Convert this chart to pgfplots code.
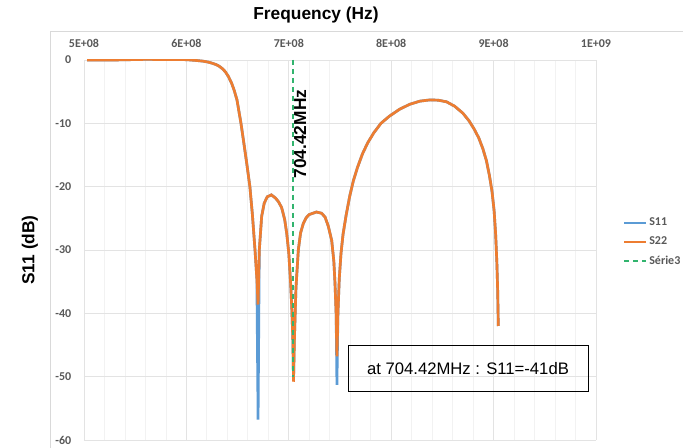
\documentclass[border=0pt]{standalone}
\usepackage{fontspec}
\setmainfont{Liberation Sans}
\newfontfamily\carlito{Carlito}
\usepackage{pgfplots}
\pgfplotsset{compat=1.18}

\definecolor{sblue}{HTML}{5B9BD5}
\definecolor{sorange}{HTML}{ED7D31}
\definecolor{sgreen}{RGB}{50,180,110}
\definecolor{labelgray}{HTML}{595959}
\definecolor{gridmajor}{HTML}{E3E3E3}
\definecolor{gridminor}{HTML}{F2F2F2}
\definecolor{bordergray}{HTML}{D9D9D9}

% frequency in MHz, level in dB
\pgfplotstableread{
f      s
503    0
530    0
560    0.1
600    0.05
610   -0.08
616   -0.18
621   -0.32
625   -0.5
629   -0.72
632   -0.98
635   -1.35
638   -1.85
641   -2.6
644   -3.6
646.5 -4.7
649.4 -6.3
653.3 -10.0
656   -13.0
659   -16.4
662   -20.0
664.5 -24.5
667   -30.0
668.8 -34.5
670   -38.6
671.2 -30.0
673.5 -24.7
676   -22.6
679   -21.6
683   -21.3
687   -21.8
690   -22.4
693   -23.3
696   -25.2
698   -27.4
700   -30.5
701.8 -35.3
703   -39.5
704   -44.5
704.6 -50.8
705.5 -44.0
707   -36.0
709.3 -30.0
711.5 -27.3
714.2 -25.8
717   -24.9
720   -24.4
727   -24.0
732   -24.2
735.4 -24.8
738.5 -26.2
741.9 -28.5
744   -31.8
745.1 -35.2
746.2 -40.0
747   -46.8
748   -40.0
749.3 -34.5
751   -30.5
753   -27.5
756   -24.5
759.5 -21.5
763   -19.1
767   -17.0
772   -14.8
777   -13.1
783   -11.5
790   -10.0
798   -8.9
808   -7.8
818   -7.0
828   -6.5
838   -6.3
846   -6.35
854   -6.6
862   -7.3
870   -8.4
876   -9.6
881   -10.9
885.5 -12.3
889.5 -14.0
893   -15.9
896   -18.3
898.5 -20.8
900.5 -23.8
902   -27.5
903.2 -32.0
904   -36.5
904.6 -42.0
}\sdeuxdeux

\pgfplotstableread{
f      s
503    0
530    0
560    0.1
600    0.05
610   -0.08
616   -0.18
621   -0.32
625   -0.5
629   -0.72
632   -0.98
635   -1.35
638   -1.85
641   -2.6
644   -3.6
646.5 -4.7
649.4 -6.3
653.3 -10.0
656   -13.0
659   -16.4
662   -20.0
664.5 -24.5
667   -30.0
668.8 -34.5
670   -56.8
671.2 -30.0
673.5 -24.7
676   -22.6
679   -21.6
683   -21.3
687   -21.8
690   -22.4
693   -23.3
696   -25.2
698   -27.4
700   -30.5
701.8 -35.3
703   -39.5
704   -44.5
704.6 -50.6
705.5 -44.0
707   -36.0
709.3 -30.0
711.5 -27.3
714.2 -25.8
717   -24.9
720   -24.4
727   -24.0
732   -24.2
735.4 -24.8
738.5 -26.2
741.9 -28.5
744   -31.8
745.1 -35.2
746.2 -40.0
747   -51.3
748   -40.0
749.3 -34.5
751   -30.5
753   -27.5
756   -24.5
759.5 -21.5
763   -19.1
767   -17.0
772   -14.8
777   -13.1
783   -11.5
790   -10.0
798   -8.9
808   -7.8
818   -7.0
828   -6.5
838   -6.3
846   -6.35
854   -6.6
862   -7.3
870   -8.4
876   -9.6
881   -10.9
885.5 -12.3
889.5 -14.0
893   -15.9
896   -18.3
898.5 -20.8
900.5 -23.8
902   -27.5
903.2 -32.0
904   -36.5
904.6 -42.0
}\sonzeonze

\begin{document}
\begin{tikzpicture}
\path[use as bounding box, fill=white] (0,0) rectangle (512.25pt,336pt);
\draw[bordergray, line width=0.75pt] (37.5pt,0) -- (37.5pt,312.4pt) -- (512.25pt,312.4pt);

\node[font=\bfseries\fontsize{13}{15}\selectfont] at (237pt,324.75pt) {Frequency (Hz)};
\node[font=\bfseries\fontsize{13}{15}\selectfont, rotate=90] at (22.5pt,148.5pt) {S11 (dB)};

\begin{axis}[
    at={(63pt,6pt)}, anchor=south west,
    scale only axis,
    width=384pt, height=285pt,
    xmin=500, xmax=1000,
    ymin=-60, ymax=0,
    axis line style={draw=none},
    major tick length=0pt, minor tick length=0pt,
    xtick={500,600,700,800,900,1000},
    xticklabels={5E+08,6E+08,7E+08,8E+08,9E+08,1E+09},
    minor x tick num=4,
    xticklabel pos=top,
    ytick={-60,-50,-40,-30,-20,-10,0},
    yticklabels={-60,-50,-40,-30,-20,-10,0},
    xmajorgrids, xminorgrids, ymajorgrids,
    major grid style={draw=gridmajor, line width=0.6pt},
    minor grid style={draw=gridminor, line width=0.6pt},
    tick label style={font=\carlito\bfseries\fontsize{9}{10}\selectfont, text=labelgray},
    xticklabel style={yshift=6pt},
    yticklabel style={xshift=-6pt},
    legend style={at={(1.045,0.521)}, anchor=west, draw=none, fill=none,
        font=\carlito\bfseries\fontsize{9}{10}\selectfont, text=labelgray,
        row sep=3pt},
    legend cell align=left,
    legend image code/.code={\draw[#1, line width=1.5pt] (0pt,0pt) -- (16pt,0pt);},
]
\addplot[sblue, line width=2pt] table[x=f, y=s] {\sonzeonze};
\addlegendentry{S11}
\addplot[sorange, line width=2pt] table[x=f, y=s] {\sdeuxdeux};
\addlegendentry{S22}
\addplot[sgreen, line width=1.3pt, dash pattern=on 3.75pt off 3pt] coordinates {(704.42,0) (704.42,-50)};
\addlegendentry{Série3}

\node[font=\bfseries\fontsize{13}{15}\selectfont, rotate=90] at (axis cs:711,-11.7) {704.42MHz};
\end{axis}

\node[draw=black, line width=0.75pt, minimum width=180pt, minimum height=34.5pt,
      font=\fontsize{12.5}{14}\selectfont] at (351pt,59.25pt) {at 704.42MHz : S11=-41dB};
\end{tikzpicture}
\end{document}
